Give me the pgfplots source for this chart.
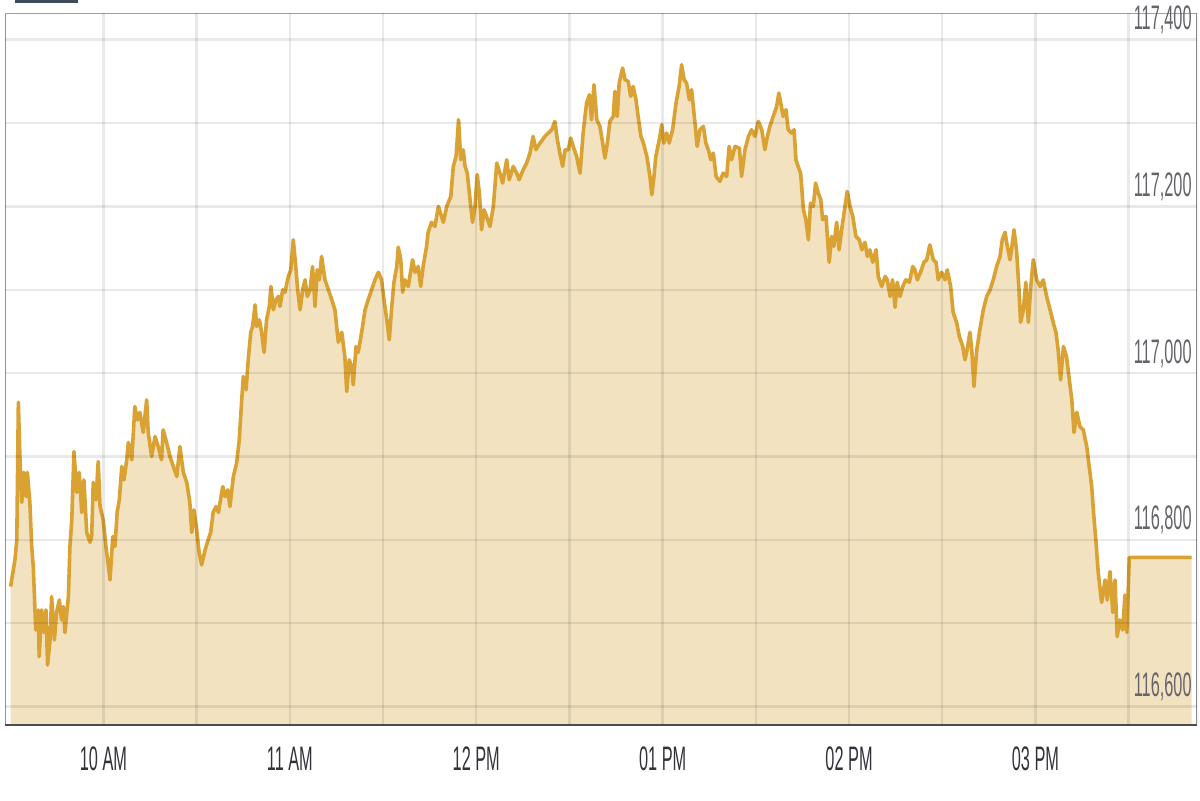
\documentclass[border=0pt]{standalone}
\usepackage{fontspec}
\setmainfont{Liberation Sans}[FakeStretch=0.48]
\usepackage{pgfplots}
\usepackage{pgfplotstable}
\pgfplotsset{compat=1.18}

\definecolor{linegold}{RGB}{217,162,50}
\definecolor{areatan}{RGB}{242,226,192}
\definecolor{labdark}{RGB}{50,50,58}
\definecolor{labgray}{RGB}{100,100,106}
\definecolor{barslate}{RGB}{60,76,92}

% minutes after midnight, index value
\pgfplotstableread{
t v
570.1 116744
571.5 116776
572.1 116800
572.6 116965
573.1 116900
573.7 116845
574.4 116881
575.1 116852
575.5 116881
576.3 116845
576.9 116792
577.4 116768
578.2 116692
579.0 116716
579.3 116660
580.1 116716
580.8 116689
581.5 116716
582.0 116650
582.8 116680
583.3 116732
584.2 116680
584.9 116713
585.8 116728
586.5 116704
587.1 116720
587.6 116689
588.7 116732
589.2 116792
589.8 116824
590.5 116906
591.4 116857
592.2 116881
593.0 116833
593.7 116872
594.6 116809
595.7 116797
596.2 116804
596.7 116869
597.6 116848
598.3 116894
598.9 116840
599.9 116824
600.8 116792
602.1 116752
603.0 116804
603.7 116792
604.4 116833
605.1 116848
605.9 116888
606.6 116872
607.5 116896
608.0 116917
609.1 116896
610.1 116960
610.9 116944
611.7 116953
612.8 116929
613.9 116968
614.4 116929
615.5 116900
616.6 116924
617.6 116912
618.7 116896
619.2 116932
620.3 116917
621.4 116900
622.5 116888
623.6 116876
624.6 116912
625.7 116881
626.8 116869
627.8 116845
628.4 116809
629.1 116836
630.0 116812
630.8 116785
631.6 116770
632.7 116788
633.7 116800
634.5 116809
635.3 116833
636.2 116840
637.0 116833
638.4 116864
639.1 116852
640.0 116860
640.7 116840
641.8 116876
642.9 116893
643.7 116920
644.5 116968
645.0 116996
645.9 116980
646.6 117016
647.4 117049
648.0 117056
648.8 117082
649.3 117056
650.2 117064
650.9 117049
651.7 117025
652.5 117064
653.4 117080
653.9 117104
654.7 117076
655.5 117088
656.3 117092
656.8 117080
657.7 117100
658.4 117097
659.5 117116
660.3 117124
661.1 117160
661.9 117128
662.5 117100
663.3 117076
664.1 117100
664.9 117112
665.6 117092
666.5 117100
667.3 117128
668.1 117080
668.8 117124
669.5 117112
670.2 117140
671.3 117112
672.4 117100
673.5 117088
674.5 117076
675.6 117037
676.7 117049
677.7 117020
678.3 116978
679.1 117016
679.9 117008
680.4 116986
681.3 117032
682.0 117025
683.1 117049
684.2 117076
685.2 117088
686.3 117100
687.4 117112
688.5 117121
689.5 117112
690.3 117088
691.2 117064
692.0 117040
692.8 117080
693.5 117109
694.4 117128
694.9 117151
695.7 117136
696.3 117097
697.0 117112
698.1 117104
699.5 117136
700.3 117121
701.3 117128
702.1 117104
702.9 117128
704.0 117152
704.5 117169
705.6 117181
706.7 117176
707.8 117200
709.4 117181
710.5 117200
711.8 117212
712.6 117248
713.5 117260
714.3 117304
715.0 117256
715.8 117268
716.4 117248
717.1 117240
718.0 117208
718.8 117181
719.6 117200
720.3 117238
721.0 117216
721.7 117172
722.5 117196
723.3 117188
724.4 117176
725.5 117200
726.6 117252
727.6 117240
728.5 117228
729.8 117256
730.6 117232
731.9 117248
733.0 117240
733.8 117232
735.1 117244
736.2 117252
737.3 117264
738.3 117284
739.2 117268
740.5 117276
742.1 117284
743.2 117288
744.3 117292
745.3 117302
746.1 117280
746.9 117264
747.8 117248
748.6 117268
749.6 117268
750.4 117282
751.2 117272
752.3 117260
753.4 117240
754.4 117288
755.5 117324
756.4 117334
757.1 117304
757.9 117346
758.8 117304
759.8 117296
760.7 117276
761.4 117258
762.2 117276
763.0 117302
764.1 117308
764.6 117338
765.4 117308
766.0 117348
767.1 117366
767.9 117352
768.9 117350
769.7 117332
770.5 117344
771.4 117328
772.1 117308
773.0 117284
773.8 117276
774.9 117260
775.9 117236
776.5 117214
777.2 117236
777.8 117260
778.9 117280
779.7 117298
780.4 117276
781.3 117288
782.1 117276
783.2 117292
784.3 117324
785.3 117344
786.1 117370
786.9 117352
787.7 117348
788.6 117328
789.3 117340
790.4 117300
791.1 117272
792.0 117292
793.1 117296
793.9 117276
794.7 117268
795.5 117256
796.3 117264
797.2 117236
798.4 117230
799.5 117240
800.6 117236
801.4 117272
802.2 117256
803.3 117272
804.7 117270
805.4 117236
806.5 117268
807.6 117284
808.6 117292
809.7 117284
810.8 117302
811.9 117292
812.9 117268
813.7 117284
814.5 117296
815.6 117308
816.7 117320
817.4 117336
818.8 117308
819.7 117316
820.4 117292
821.5 117288
822.3 117292
822.9 117256
823.6 117248
824.4 117240
825.3 117196
826.1 117184
826.9 117160
827.6 117204
828.5 117200
829.2 117228
830.1 117216
830.9 117208
831.5 117184
832.6 117188
833.0 117164
833.6 117133
834.4 117164
835.1 117152
836.0 117181
836.8 117148
837.6 117172
838.7 117200
839.4 117218
840.3 117200
841.2 117188
842.2 117164
843.3 117160
844.1 117148
845.1 117157
845.9 117140
846.7 117148
847.6 117133
848.7 117148
849.4 117116
850.5 117104
851.6 117116
852.3 117112
853.2 117092
854.0 117112
854.8 117079
855.5 117109
856.4 117092
857.3 117104
858.3 117112
859.4 117109
860.5 117128
861.2 117124
862.0 117112
863.0 117121
864.1 117133
865.0 117136
866.0 117154
867.1 117136
868.0 117133
868.7 117112
869.8 117121
870.9 117112
871.6 117124
872.7 117104
873.5 117073
874.6 117061
875.5 117044
876.6 117032
877.3 117016
878.0 117028
878.9 117049
879.5 117028
880.2 116984
881.1 117028
882.1 117052
883.2 117076
884.3 117092
885.4 117100
886.4 117112
887.5 117128
888.6 117140
889.3 117160
890.2 117169
890.7 117157
891.8 117136
892.3 117148
893.1 117172
893.9 117148
894.7 117100
895.2 117061
896.1 117076
896.9 117109
897.7 117061
898.5 117104
899.3 117136
900.4 117112
901.5 117104
902.5 117112
903.6 117092
904.7 117076
905.7 117061
906.6 117049
907.3 117028
908.1 116992
909.0 117032
910.0 117020
910.9 116992
911.7 116968
912.4 116929
913.3 116953
914.3 116936
915.4 116932
916.5 116912
917.3 116888
918.1 116864
918.8 116828
919.5 116797
920.2 116761
921.3 116725
922.4 116752
923.1 116728
924.0 116762
924.9 116713
925.6 116752
926.3 116684
927.2 116704
928.1 116692
928.8 116734
929.4 116689
930.2 116779
950.3 116779
}\kse

\begin{document}
\begin{tikzpicture}
\useasboundingbox (0,0) rectangle (600pt,400pt);
\fill[barslate] (7.5pt,398.5pt) rectangle (39pt,400pt);
\begin{axis}[
    axis on top,
    at={(2.5pt,37.5pt)}, anchor=south west,
    scale only axis, width=596pt, height=356pt,
    xmin=568.3, xmax=952.0,
    ymin=116578, ymax=117432,
    xtick={600,660,720,780,840,900},
    xticklabels={10 AM,11 AM,12 PM,01 PM,02 PM,03 PM},
    minor xtick={630,690,750,810,870,930},
    ytick={116600,116800,117000,117200,117400},
    yticklabels={{116,600},{116,800},{117,000},{117,200},{117,400}},
    minor ytick={116700,116900,117100,117300},
    grid=both,
    major grid style={black, opacity=0.085, line width=1.2pt},
    minor grid style={black, opacity=0.085, line width=1.2pt},
    major tick length=0pt, minor tick length=0pt,
    axis line style={draw=none},
    yticklabel pos=right,
    xticklabel style={font=\fontsize{17}{18}\selectfont, text=labdark,
        anchor=base, inner sep=0pt, yshift=-22.8pt},
    yticklabel style={font=\fontsize{17}{18}\selectfont, text=labgray,
        anchor=base east, inner sep=0pt, xshift=-2.5pt, yshift=5pt},
]
\addplot[draw=none, fill=areatan] table[x=t, y=v] {\kse} \closedcycle;
\addplot[linegold, line width=1.8pt, line join=round] table[x=t, y=v] {\kse};
\draw[gray!85, line width=1pt] (rel axis cs:0,0) -- (rel axis cs:0,1);
\draw[gray!75, line width=1.3pt] (rel axis cs:0,1) -- (rel axis cs:1,1);
\draw[gray!90, line width=0.8pt] (rel axis cs:1,0) -- (rel axis cs:1,1);
\draw[black!70, line width=1.3pt] (rel axis cs:0,0) -- (rel axis cs:1,0);
\end{axis}
\end{tikzpicture}
\end{document}
